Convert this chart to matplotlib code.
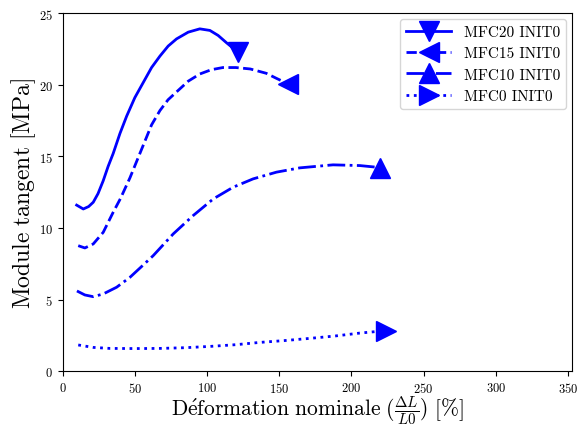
import matplotlib
matplotlib.use("Agg")
import matplotlib.pyplot as plt

plt.rcParams['font.family'] = ['cmr10', 'DejaVu Serif']
plt.rcParams['mathtext.fontset'] = 'cm'
plt.rcParams['axes.formatter.use_mathtext'] = True

x20 = [9.7, 14.3, 18, 21.2, 24.5, 28.1, 31.5, 35.0, 39.7, 44.3, 50.0, 55.8, 61.6, 67.4, 73.1, 78.9,
       87, 95, 102, 107.7, 113.5, 117.5, 121.6]
y20 = [11.6, 11.33, 11.5, 11.8, 12.4, 13.3, 14.3, 15.2, 16.6, 17.8, 19.1, 20.15, 21.2, 22.0, 22.7, 23.2,
       23.67, 23.9, 23.79, 23.44, 22.93, 22.6, 22.28]

x15 = [10.8, 15.4, 21.2, 28.1, 35, 40, 46.6, 54.7, 61.6, 67.4, 73, 78.9, 87, 95, 103, 111,
       120, 130, 141, 148, 156.2]
y15 = [8.77, 8.61, 8.89, 9.7, 11.1, 12.05, 13.5, 15.5, 17.2, 18.2, 18.95, 19.5, 20.25, 20.75, 21.05, 21.2,
       21.2, 21.1, 20.8, 20.45, 20.06]

x10 = [9.9, 15.4, 21.2, 28.1, 37.4, 46.6, 54, 62.7, 76.6, 90.4, 104.3, 118.1, 131.9, 148.1, 164.3,
       187.3, 205.8, 219.9]
y10 = [5.61, 5.33, 5.21, 5.4, 5.87, 6.56, 7.25, 8.07, 9.59, 10.87, 12.03, 12.85, 13.43, 13.9, 14.2,
       14.41, 14.36, 14.22]

x0 = [10.8, 21.2, 32.7, 50, 67.4, 85, 102, 120, 136.6, 154, 171.2, 189, 205.8, 224]
y0 = [1.84, 1.67, 1.6, 1.59, 1.6, 1.65, 1.74, 1.86, 2.02, 2.15, 2.3, 2.47, 2.67, 2.84]

labels = ['MFC20 INIT0', 'MFC15 INIT0', 'MFC10 INIT0', 'MFC0 INIT0']

fig = plt.figure(figsize=(5.8, 4.27), dpi=100)
ax = fig.add_axes([0.108, 0.128, 0.8787, 0.839])

series = [(x20, y20, '-', 'v'), (x15, y15, '--', '<'), (x10, y10, '-.', '^'), (x0, y0, ':', '>')]
for (xs, ys, ls, mk), lab in zip(series, labels):
    ax.plot(xs, ys, linestyle=ls, color='blue', linewidth=2, marker=mk,
            markersize=15, markevery=[len(xs) - 1], label=lab,
            solid_joinstyle='round', dash_joinstyle='round')

ax.set_xlim(0, 353)
ax.set_ylim(0, 25)
ax.set_xticks([0, 50, 100, 150, 200, 250, 300, 350])
ax.set_yticks([0, 5, 10, 15, 20, 25])
ax.tick_params(labelsize=9)
ax.set_xlabel(r'$\mathrm{D\acute{e}formation\ nominale}\ (\frac{\Delta L}{L0})\ [\%]$',
              fontsize=15.5, labelpad=-1)
ax.set_ylabel(r'$\mathrm{Module\ tangent\ [MPa]}$', fontsize=17, labelpad=0.5)
ax.legend(loc='upper right', fontsize=11, handlelength=3.0, borderaxespad=0.4)

fig.savefig('out.png', dpi=100)
